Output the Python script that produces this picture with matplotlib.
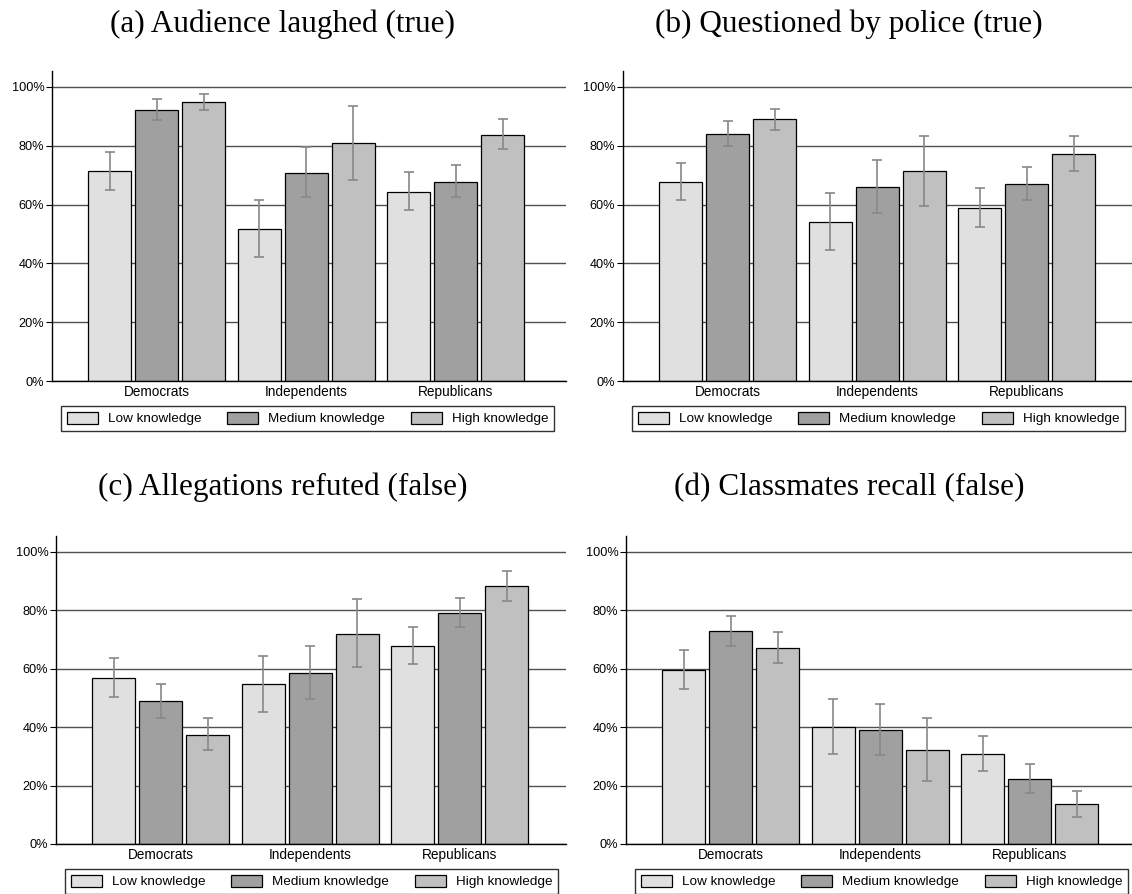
import numpy as np
import matplotlib
matplotlib.use("Agg")
import matplotlib.pyplot as plt

plt.rcParams['font.family'] = ['Liberation Sans', 'DejaVu Sans']

# categories and series
parties = ['Democrats', 'Independents', 'Republicans']
levels = ['Low knowledge', 'Medium knowledge', 'High knowledge']
titles = ['(a) Audience laughed (true)', '(b) Questioned by police (true)',
          '(c) Allegations refuted (false)', '(d) Classmates recall (false)']

# values in %, rows = Low / Medium / High knowledge, columns = parties
laughed = [[71.4, 51.6, 64.4], [92.2, 70.8, 67.8], [94.8, 80.8, 83.6]]
laughed_lo = [[65.1, 42.2, 58.2], [88.6, 62.4, 62.5], [92.2, 68.3, 78.8]]
laughed_hi = [[78.0, 61.4, 70.9], [95.9, 79.7, 73.4], [97.6, 93.5, 89.1]]

police = [[67.6, 54.0, 58.8], [84.0, 66.0, 66.9], [89.0, 71.4, 77.2]]
police_lo = [[61.4, 44.5, 52.5], [80.0, 57.0, 61.7], [85.5, 59.5, 71.5]]
police_hi = [[74.1, 63.9, 65.5], [88.3, 75.3, 72.6], [92.6, 83.4, 83.2]]

refuted = [[56.9, 54.8, 67.7], [48.9, 58.6, 79.1], [37.4, 71.9, 88.2]]
refuted_lo = [[50.4, 45.3, 61.5], [43.0, 49.7, 74.4], [32.1, 60.4, 83.3]]
refuted_hi = [[63.7, 64.5, 74.1], [54.9, 67.6, 84.2], [43.0, 83.7, 93.3]]

recall = [[59.6, 40.0, 30.9], [72.8, 38.9, 22.4], [67.1, 32.3, 13.7]]
recall_lo = [[53.2, 30.9, 25.0], [67.8, 30.4, 17.5], [62.0, 21.4, 9.2]]
recall_hi = [[66.3, 49.5, 37.1], [78.0, 47.8, 27.5], [72.4, 43.2, 18.3]]

panels = [(laughed, laughed_lo, laughed_hi), (police, police_lo, police_hi),
          (refuted, refuted_lo, refuted_hi), (recall, recall_lo, recall_hi)]

colors = ['#e0e0e0', '#a0a0a0', '#c0c0c0']

W, H = 1132, 894
fig = plt.figure(figsize=(W / 100, H / 100), dpi=100)

# axes boxes in pixels: left, right, top, bottom
boxes = [(52, 566, 71, 381), (623, 1132, 71, 381),
         (56, 566, 536, 844), (626, 1132, 536, 844)]
title_pos = [(283, 32), (849, 32), (283, 495), (849, 495)]

px_per_group = 149.5
bw = 0.288
step = 0.315
x = np.arange(len(parties))

for k, (vals, lo, hi) in enumerate(panels):
    l, r, t, b = boxes[k]
    ax = fig.add_axes([l / W, (H - b) / H, (r - l) / W, (b - t) / H])
    for i in range(3):
        v = np.array(vals[i])
        err = [v - np.array(lo[i]), np.array(hi[i]) - v]
        ax.bar(x + (i - 1) * step, v, bw, color=colors[i], edgecolor='black',
               linewidth=0.9, label=levels[i], zorder=2)
        ax.errorbar(x + (i - 1) * step, v, yerr=err, fmt='none', ecolor='#888888',
                    elinewidth=1.2, capsize=3.5, capthick=1.2, zorder=3)
    ax.set_xlim(-0.70, -0.70 + (r - l) / px_per_group)
    ax.set_ylim(0, 105.4)
    ax.set_yticks([0, 20, 40, 60, 80, 100])
    ax.set_yticklabels(['0%', '20%', '40%', '60%', '80%', '100%'])
    ax.set_xticks(x)
    ax.set_xticklabels(parties)
    ax.tick_params(axis='x', length=0, labelsize=9.8, pad=3)
    ax.tick_params(axis='y', length=4, width=0.8, labelsize=9.2, pad=1.5)
    ax.yaxis.grid(True, color='#505050', linewidth=1.0, zorder=0)
    ax.set_axisbelow(True)
    for s in ['top', 'right']:
        ax.spines[s].set_visible(False)
    ax.spines['left'].set_linewidth(1.0)
    ax.spines['bottom'].set_linewidth(1.0)

    # legend box under the axes
    leg_l = 9 / (r - l)
    leg_w = 493 / (r - l)
    leg_top = -25 / (b - t)
    leg = ax.legend(loc='upper left', bbox_to_anchor=(leg_l, leg_top, leg_w, 0),
                    mode='expand', ncol=3, fontsize=9.7, frameon=True, fancybox=False,
                    edgecolor='black', borderaxespad=0, handlelength=2.3,
                    handleheight=1.0, handletextpad=0.75, borderpad=0.42)
    leg.get_frame().set_linewidth(1.0)

    tx, ty = title_pos[k]
    fig.text(tx / W, 1 - ty / H, titles[k], ha='center', va='baseline',
             fontsize=22.5, family=['Liberation Serif', 'DejaVu Serif'])

fig.savefig('out.png', dpi=100)
